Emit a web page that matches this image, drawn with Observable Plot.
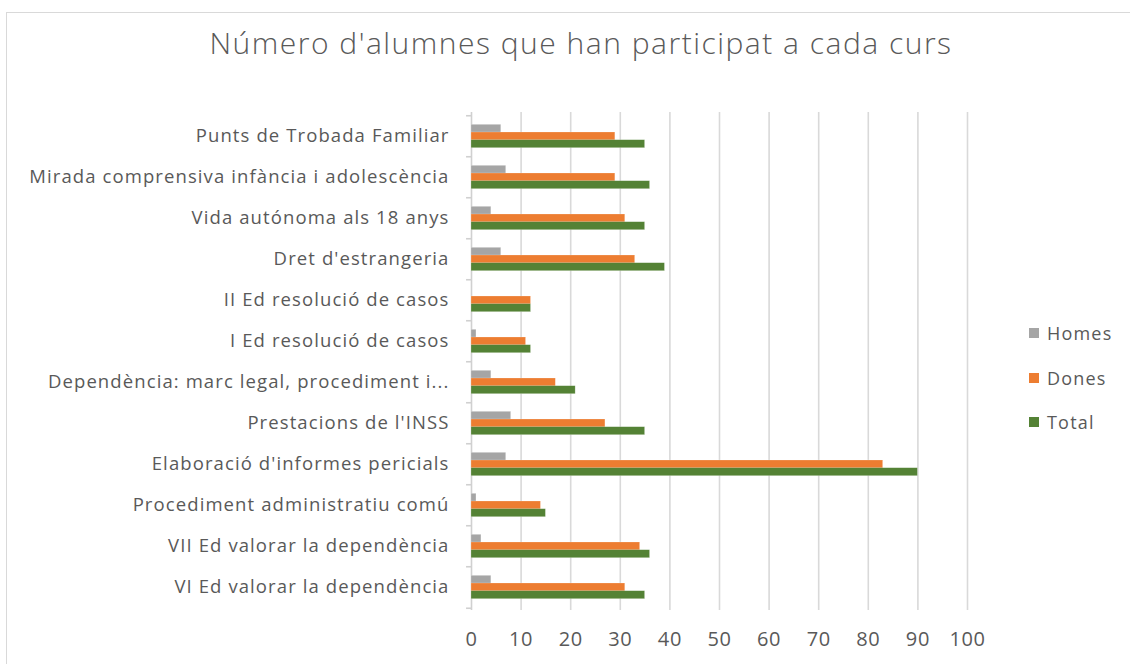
<!DOCTYPE html>
<html>
<head>
<meta charset="utf-8">
<script src="https://cdn.jsdelivr.net/npm/d3@7"></script>
<script src="https://cdn.jsdelivr.net/npm/@observablehq/plot@0.6"></script>
<style>
  html, body { margin: 0; padding: 0; background: #fff; overflow: hidden; }
  #wrap { position: relative; width: 1130px; height: 664px; }
  #frame { position: absolute; left: 6px; top: 12px; width: 1200px; height: 700px;
           border: 1.5px solid #d9d9d9; box-sizing: border-box; }
  #title { position: absolute; left: 0; top: 22px; width: 1162px; text-align: center;
           font-family: "Open Sans", sans-serif; font-weight: 300; font-size: 30px;
           color: #595959; letter-spacing: 1.5px; }
  #chart { position: absolute; left: 0; top: 0; }
  #chart .ylab text { letter-spacing: 1.1px; }
  #chart .xlab text { letter-spacing: 0.6px; }
  #legend { position: absolute; left: 1029px; top: 319px; font-family: "Open Sans", sans-serif;
            font-size: 18px; color: #595959; letter-spacing: 1.2px; }
  #legend .row { display: flex; align-items: center; height: 28px; margin-bottom: 16.5px; }
  #legend .sw { width: 10px; height: 10px; margin-right: 8px; }
</style>
</head>
<body>
<div id="wrap">
  <div id="frame"></div>
  <div id="chart"></div>
  <div id="title"></div>
  <div id="legend"></div>
</div>
<script>
const titleText = "Número d'alumnes que han participat a cada curs";
const courses = [
  "Punts de Trobada Familiar",
  "Mirada comprensiva infància i adolescència",
  "Vida autónoma als 18 anys",
  "Dret d'estrangeria",
  "II Ed resolució de casos",
  "I Ed resolució de casos",
  "Dependència: marc legal, procediment i...",
  "Prestacions de l'INSS",
  "Elaboració d'informes pericials",
  "Procediment administratiu comú",
  "VII Ed valorar la dependència",
  "VI Ed valorar la dependència"
];
const homes = [6, 7, 4, 6, 0, 1, 4, 8, 7, 1, 2, 4];
const dones = [29, 29, 31, 33, 12, 11, 17, 27, 83, 14, 34, 31];
const total = [35, 36, 35, 39, 12, 12, 21, 35, 90, 15, 36, 35];
const seriesNames = ["Homes", "Dones", "Total"];
const seriesColors = ["#a5a5a5", "#ed7d31", "#548235"];
const xTicks = [0, 10, 20, 30, 40, 50, 60, 70, 80, 90, 100];

document.getElementById("title").textContent = titleText;

const seriesValues = [homes, dones, total];
const rows = [];
seriesNames.forEach((s, si) => courses.forEach((c, ci) => rows.push({course: c, series: s, value: seriesValues[si][ci]})));

const frameTop = 112, frameBottom = 610;
const step = (frameBottom - frameTop) / courses.length;
const barH = 7.7;
const pInner = 1 - barH / step;

const offsets = {Homes: -barH, Dones: 0, Total: barH};

const marks = [
  Plot.ruleX(xTicks.filter(d => d > 0), {stroke: "#d9d9d9", strokeWidth: 1.6}),
  Plot.ruleX([0], {stroke: "#d0d0d0", strokeWidth: 1.6}),
  Plot.ruleY(courses, {y: d => d, x1: -1, x2: 0, dy: -step / 2, stroke: "#d0d0d0", strokeWidth: 1.6}),
  Plot.ruleY([courses[courses.length - 1]], {y: d => d, x1: -1, x2: 0, dy: step / 2, stroke: "#d0d0d0", strokeWidth: 1.6}),
  ...seriesNames.map(s => Plot.barX(rows.filter(r => r.series === s), {
    x: "value", y: "course", fill: "series", dy: offsets[s],
    stroke: "#fff", strokeOpacity: 0.35, strokeWidth: 0.6
  })),
  Plot.axisX({ticks: xTicks, tickSize: 0, tickPadding: 21, fontSize: 20, fill: "#595959",
              fontFamily: "Open Sans", label: null, className: "xlab"}),
  Plot.axisY({tickSize: 0, tickPadding: 22, fontSize: 18.5, fill: "#595959",
              fontFamily: "Open Sans", label: null, className: "ylab"})
];

const chart = Plot.plot({
  width: 1130,
  height: 664,
  marginTop: frameTop,
  marginBottom: 664 - frameBottom,
  marginLeft: 471,
  marginRight: 1130 - 967,
  style: {fontFamily: "Open Sans", color: "#595959", background: "transparent"},
  x: {domain: [0, 100]},
  y: {domain: courses, paddingInner: pInner, paddingOuter: pInner / 2},
  color: {domain: seriesNames, range: seriesColors},
  marks
});
document.getElementById("chart").appendChild(chart);

const legend = document.getElementById("legend");
seriesNames.forEach((s, i) => {
  const row = document.createElement("div");
  row.className = "row";
  const sw = document.createElement("div");
  sw.className = "sw";
  sw.style.background = seriesColors[i];
  const lab = document.createElement("span");
  lab.textContent = s;
  row.appendChild(sw); row.appendChild(lab);
  legend.appendChild(row);
});
</script>
</body>
</html>
